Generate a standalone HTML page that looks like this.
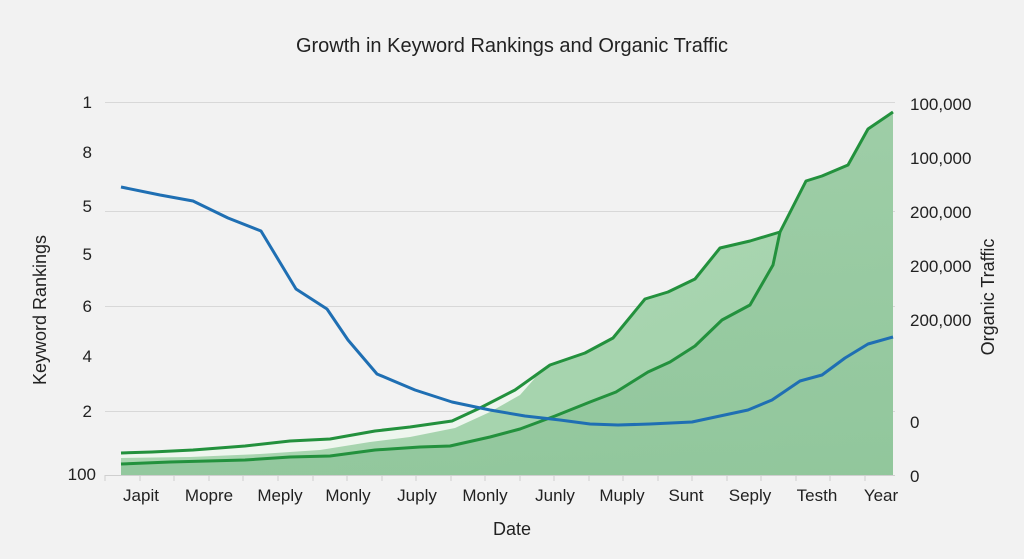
<!DOCTYPE html>
<html><head><meta charset="utf-8"><style>
html,body{margin:0;padding:0;background:#f2f2f2;}
svg{display:block;font-family:"Liberation Sans",sans-serif;}
</style></head><body>
<svg width="1024" height="559" viewBox="0 0 1024 559" xmlns="http://www.w3.org/2000/svg">
<defs>
<linearGradient id="g1" x1="0" y1="0" x2="1" y2="1">
<stop offset="0" stop-color="#b4dcba"/><stop offset="1" stop-color="#9fd0a8"/>
</linearGradient>
<linearGradient id="g2" x1="0" y1="0" x2="0" y2="1">
<stop offset="0" stop-color="#9ccca5"/><stop offset="1" stop-color="#8fc59a"/>
</linearGradient>
</defs>
<rect width="1024" height="559" fill="#f2f2f2"/>
<text x="512" y="52" font-size="20" text-anchor="middle" fill="#222">Growth in Keyword Rankings and Organic Traffic</text>
<g stroke="#d8d8d8" stroke-width="1">
<line x1="105" y1="102.5" x2="895" y2="102.5"/>
<line x1="105" y1="211.5" x2="895" y2="211.5"/>
<line x1="105" y1="306.5" x2="895" y2="306.5"/>
<line x1="105" y1="411.5" x2="895" y2="411.5"/>
</g>
<polygon fill="url(#g1)" points="121,475 121,453 152,452 193,450 245,446 290,441 330,439 375,431 410,427 452,421 480,408 515,390 550,365 585,353 613,338 645,299 668,292 695,279 720,248 750,241 780,232 806,181 822,176 848,165 868,129 893,112 893,475"/>
<polygon fill="#eef6ee" points="121,453 152,452 193,450 245,446 290,441 330,439 375,431 410,427 452,421 480,408 515,390 535,378 520,395 490,412 455,428 410,437 370,442 320,450 260,454 190,457 121,458"/>
<polygon fill="url(#g2)" opacity="0.85" points="121,475 121,464 170,462 245,460 290,457 330,456 375,450 420,447 450,446 490,437 520,429 555,416 590,402 616,392 648,372 670,362 695,346 722,320 750,305 773,265 780,232 806,181 822,176 848,165 868,129 893,112 893,475"/>
<line x1="105" y1="475.5" x2="895" y2="475.5" stroke="#cfcfcf"/>
<g stroke="#cfcfcf">
<line x1="105" y1="475" x2="105" y2="481"/><line x1="140" y1="475" x2="140" y2="481"/><line x1="174" y1="475" x2="174" y2="481"/><line x1="209" y1="475" x2="209" y2="481"/><line x1="243" y1="475" x2="243" y2="481"/><line x1="278" y1="475" x2="278" y2="481"/><line x1="313" y1="475" x2="313" y2="481"/><line x1="347" y1="475" x2="347" y2="481"/><line x1="382" y1="475" x2="382" y2="481"/><line x1="416" y1="475" x2="416" y2="481"/><line x1="451" y1="475" x2="451" y2="481"/><line x1="485" y1="475" x2="485" y2="481"/><line x1="520" y1="475" x2="520" y2="481"/><line x1="554" y1="475" x2="554" y2="481"/><line x1="589" y1="475" x2="589" y2="481"/><line x1="623" y1="475" x2="623" y2="481"/><line x1="658" y1="475" x2="658" y2="481"/><line x1="692" y1="475" x2="692" y2="481"/><line x1="727" y1="475" x2="727" y2="481"/><line x1="761" y1="475" x2="761" y2="481"/><line x1="796" y1="475" x2="796" y2="481"/><line x1="830" y1="475" x2="830" y2="481"/><line x1="865" y1="475" x2="865" y2="481"/>
</g>
<polyline fill="none" stroke="#23913d" stroke-width="3" stroke-linejoin="round" points="121,453 152,452 193,450 245,446 290,441 330,439 375,431 410,427 452,421 480,408 515,390 550,365 585,353 613,338 645,299 668,292 695,279 720,248 750,241 780,232 806,181 822,176 848,165 868,129 893,112"/>
<polyline fill="none" stroke="#23913d" stroke-width="3" stroke-linejoin="round" points="121,464 170,462 245,460 290,457 330,456 375,450 420,447 450,446 490,437 520,429 555,416 590,402 616,392 648,372 670,362 695,346 722,320 750,305 773,265 780,232"/>
<polyline fill="none" stroke="#1f6fb3" stroke-width="3" stroke-linejoin="round" points="121,187 160,195 193,201 228,218 261,231 296,289 327,309 348,340 377,374 415,390 452,402 490,410 525,416 560,420 590,424 618,425 650,424 692,422 720,416 748,410 772,400 800,381 822,375 845,358 868,344 893,337"/>
<g font-size="17" fill="#222" text-anchor="end">
<text x="92" y="108">1</text><text x="92" y="158">8</text><text x="92" y="212">5</text><text x="92" y="260">5</text><text x="92" y="312">6</text><text x="92" y="362">4</text><text x="92" y="417">2</text><text x="96" y="480">100</text>
</g>
<g font-size="17" fill="#222">
<text x="910" y="110">100,000</text><text x="910" y="164">100,000</text><text x="910" y="218">200,000</text><text x="910" y="272">200,000</text><text x="910" y="326">200,000</text><text x="910" y="428">0</text><text x="910" y="482">0</text>
</g>
<g font-size="17" fill="#222" text-anchor="middle">
<text x="141" y="501">Japit</text><text x="209" y="501">Mopre</text><text x="280" y="501">Meply</text><text x="348" y="501">Monly</text><text x="417" y="501">Juply</text><text x="485" y="501">Monly</text><text x="555" y="501">Junly</text><text x="622" y="501">Muply</text><text x="686" y="501">Sunt</text><text x="750" y="501">Seply</text><text x="817" y="501">Testh</text><text x="881" y="501">Year</text>
</g>
<text x="512" y="535" font-size="18" text-anchor="middle" fill="#222">Date</text>
<text transform="translate(46,310) rotate(-90)" font-size="18" text-anchor="middle" fill="#222">Keyword Rankings</text>
<text transform="translate(994,297) rotate(-90)" font-size="18" text-anchor="middle" fill="#222">Organic Traffic</text>
</svg>
</body></html>
